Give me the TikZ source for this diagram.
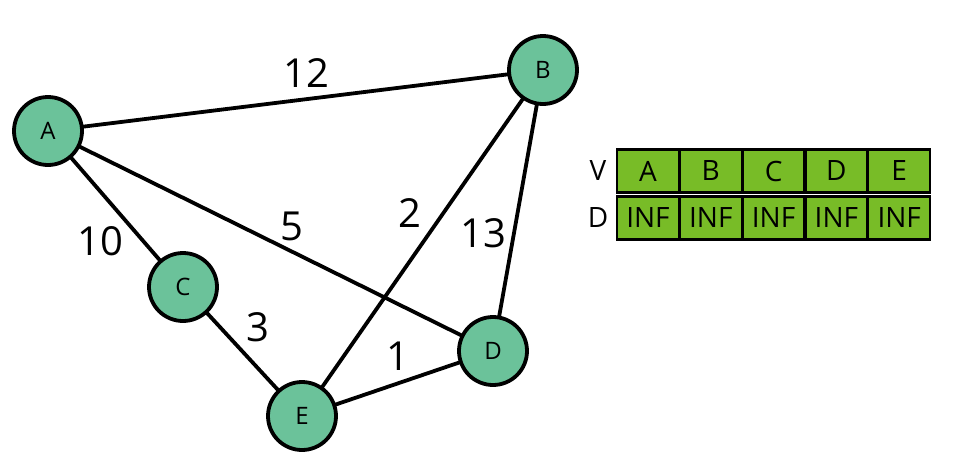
\documentclass[tikz,border=0pt]{standalone}
\usepackage{fontspec}
\setmainfont{Open Sans}
\definecolor{nodegreen}{HTML}{6BC29A}
\definecolor{cellgreen}{HTML}{78BC27}
\begin{document}
\begin{tikzpicture}[x=1pt,y=-1pt,
  vert/.style={circle,draw=black,line width=3.8pt,fill=nodegreen,minimum size=68pt,inner sep=0pt,font=\fontsize{24}{24}\selectfont},
  edge/.style={line width=3.8pt},
  wlabel/.style={font=\fontsize{40}{40}\selectfont,inner sep=0pt},
  cell/.style={draw=black,line width=2.5pt,fill=cellgreen,minimum width=62pt,minimum height=43pt,inner sep=0pt,font=\fontsize{28}{28}\selectfont},
  rlabel/.style={font=\fontsize{28}{28}\selectfont,inner sep=0pt}]
\useasboundingbox (0,0) rectangle (964,474);
% edges first
\coordinate (pA) at (48,131);
\coordinate (pB) at (543,70);
\coordinate (pC) at (183,287);
\coordinate (pD) at (493,351);
\coordinate (pE) at (302,416);
\draw[edge] (pA) -- (pB);
\draw[edge] (pA) -- (pC);
\draw[edge] (pA) -- (pD);
\draw[edge] (pB) -- (pE);
\draw[edge] (pB) -- (pD);
\draw[edge] (pC) -- (pE);
\draw[edge] (pE) -- (pD);
\node[vert] (A) at (pA) {A};
\node[vert] (B) at (pB) {B};
\node[vert] (C) at (pC) {C};
\node[vert] (D) at (pD) {D};
\node[vert] (E) at (pE) {E};
% weights
\node[wlabel] (w12) at (306,73) {12};
\node[wlabel] (w10) at (100,241) {10};
\node[wlabel] (w5) at (292,226) {5};
\node[wlabel] (w2) at (410,213) {2};
\node[wlabel] (w13) at (483,233) {13};
\node[wlabel] (w3) at (258,327) {3};
\node[wlabel] (w1) at (398,356) {1};
% table
\node[rlabel] (lv) at (598,171) {V};
\node[rlabel] (ld) at (598,218) {D};
\foreach \t [count=\i from 0] in {A,B,C,D,E}{
  \node[cell] (v\t) at ({648+62.8*\i},171) {\t};
  \node[cell] (d\t) at ({648+62.8*\i},218) {INF};
}
\end{tikzpicture}
\end{document}
